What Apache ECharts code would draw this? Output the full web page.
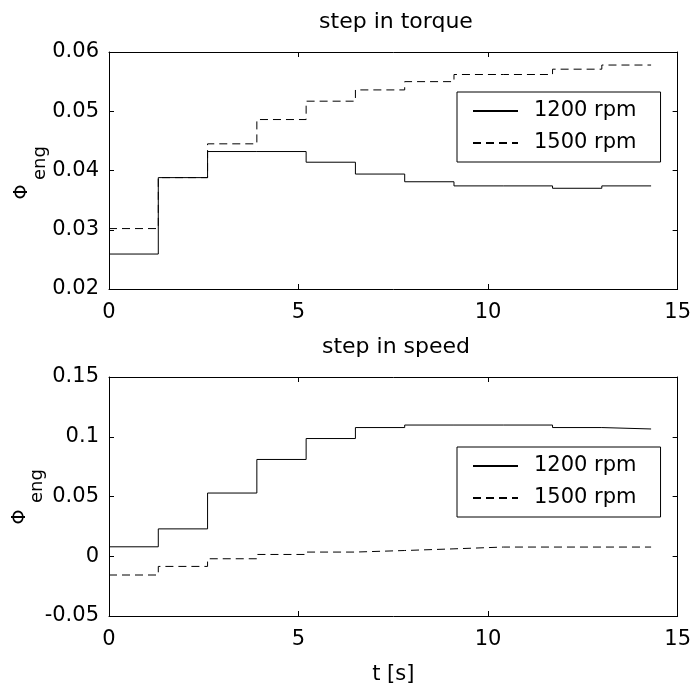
<!DOCTYPE html>
<html>
<head>
<meta charset="utf-8">
<script src="https://cdn.jsdelivr.net/npm/echarts@6/dist/echarts.min.js"></script>
<style>html,body{margin:0;padding:0;background:#fff;}#c{width:694px;height:686px;}</style>
</head>
<body>
<div id="c"></div>
<script>
// time instants at which the held value changes (last entry = end of the record)
const time = [0, 1.3, 2.6, 3.9, 5.2, 6.5, 7.8, 9.1, 10.4, 11.7, 13.0, 14.3];
// step in torque
const torque1200 = [0.0259, 0.0388, 0.0432, 0.0432, 0.0414, 0.0394, 0.0381, 0.0374, 0.0374, 0.0370, 0.0374, 0.0374];
const torque1500 = [0.0302, 0.0388, 0.0445, 0.0486, 0.0517, 0.0536, 0.0550, 0.0562, 0.0562, 0.0571, 0.0578, 0.0578];
// step in speed
const speed1200 = [0.0079, 0.0229, 0.0529, 0.0810, 0.0985, 0.1077, 0.1098, 0.1098, 0.1098, 0.1077, 0.1065, 0.1065];
const speed1500 = [-0.0157, -0.0085, -0.0021, 0.0015, 0.0035, 0.0048, 0.0062, 0.0077, 0.0077, 0.0077, 0.0077, 0.0077];
const seriesNames = ['1200 rpm', '1500 rpm'];
const titles = ['step in torque', 'step in speed'];
const xLabel = 't [s]';
const yLabelMain = '\u03A6';
const yLabelSub = 'eng';

const FONT = 'DejaVu Sans';
const pair = (ys) => time.map((t, i) => [t, ys[i]]);

const grids = [
  { left: 109, right: 15, top: 52, height: 237 },
  { left: 109, right: 15, top: 377, height: 240 }
];

function xAx(grid, pos, labels, name) {
  return {
    type: 'value', gridIndex: grid, position: pos, min: 0, max: 15, interval: 5,
    axisLine: { show: true, onZero: false, lineStyle: { color: '#000', width: 1 } },
    axisTick: { show: true, inside: true, length: 5, lineStyle: { color: '#000' } },
    axisLabel: { show: labels, color: '#000', fontFamily: FONT, fontSize: 21, margin: 13 },
    splitLine: { show: false },
    name: name || '', nameLocation: 'middle', nameGap: 48,
    nameTextStyle: { color: '#000', fontFamily: FONT, fontSize: 21 }
  };
}
function yAx(grid, pos, labels, min, max, interval) {
  return {
    type: 'value', gridIndex: grid, position: pos, min: min, max: max, interval: interval,
    axisLine: { show: true, onZero: false, lineStyle: { color: '#000', width: 1 } },
    axisTick: { show: true, inside: true, length: 5, lineStyle: { color: '#000' } },
    axisLabel: { show: labels, color: '#000', fontFamily: FONT, fontSize: 21, margin: 10 },
    splitLine: { show: false }
  };
}

function lineSeries(name, x, y, data, dashed) {
  return {
    name: name, type: 'line', xAxisIndex: x, yAxisIndex: y, data: data, step: 'end',
    symbol: 'none', showSymbol: false, animation: false,
    lineStyle: { color: '#000', width: 1, type: dashed ? [8, 5] : 'solid' },
    itemStyle: { color: '#000' }
  };
}

function legend(top) {
  return {
    orient: 'vertical', left: 457, top: top, data: seriesNames,
    itemWidth: 45, itemHeight: 14, itemGap: 10,
    padding: [8, 24, 8, 15],
    borderColor: '#000', borderWidth: 1, backgroundColor: '#fff',
    itemStyle: { opacity: 0 },
    textStyle: { color: '#000', fontFamily: FONT, fontSize: 21, lineHeight: 22, padding: [0, 0, 0, 11] },
    selectedMode: false
  };
}

function yName(px, py, sx, sy) {
  return [
    { type: 'text', x: px, y: py, rotation: Math.PI / 2,
      style: { text: yLabelMain, fontFamily: FONT, fontSize: 19, fill: '#000', align: 'center', verticalAlign: 'middle' } },
    { type: 'text', x: sx, y: sy, rotation: Math.PI / 2,
      style: { text: yLabelSub, fontFamily: FONT, fontSize: 18, fill: '#000', align: 'center', verticalAlign: 'middle' } }
  ];
}

const option = {
  animation: false,
  backgroundColor: '#fff',
  title: [
    { text: titles[0], left: 391, textAlign: 'center', top: 6, textStyle: { color: '#000', fontFamily: FONT, fontSize: 22, fontWeight: 'normal' } },
    { text: titles[1], left: 391, textAlign: 'center', top: 331, textStyle: { color: '#000', fontFamily: FONT, fontSize: 22, fontWeight: 'normal' } }
  ],
  grid: grids,
  legend: [legend(92), legend(447)],
  xAxis: [
    xAx(0, 'bottom', true), xAx(0, 'top', false),
    xAx(1, 'bottom', true, xLabel), xAx(1, 'top', false)
  ],
  yAxis: [
    yAx(0, 'left', true, 0.02, 0.06, 0.01), yAx(0, 'right', false, 0.02, 0.06, 0.01),
    yAx(1, 'left', true, -0.05, 0.15, 0.05), yAx(1, 'right', false, -0.05, 0.15, 0.05)
  ],
  graphic: yName(22, 192, 40, 163).concat(yName(20, 517, 37, 486)),
  series: [
    lineSeries(seriesNames[0], 0, 0, pair(torque1200), false),
    lineSeries(seriesNames[1], 0, 0, pair(torque1500), true),
    lineSeries(seriesNames[0], 2, 2, pair(speed1200), false),
    lineSeries(seriesNames[1], 2, 2, pair(speed1500), true)
  ]
};
const chart = echarts.init(document.getElementById('c'), null, { renderer: 'canvas' });
chart.setOption(option);
</script>
</body>
</html>
